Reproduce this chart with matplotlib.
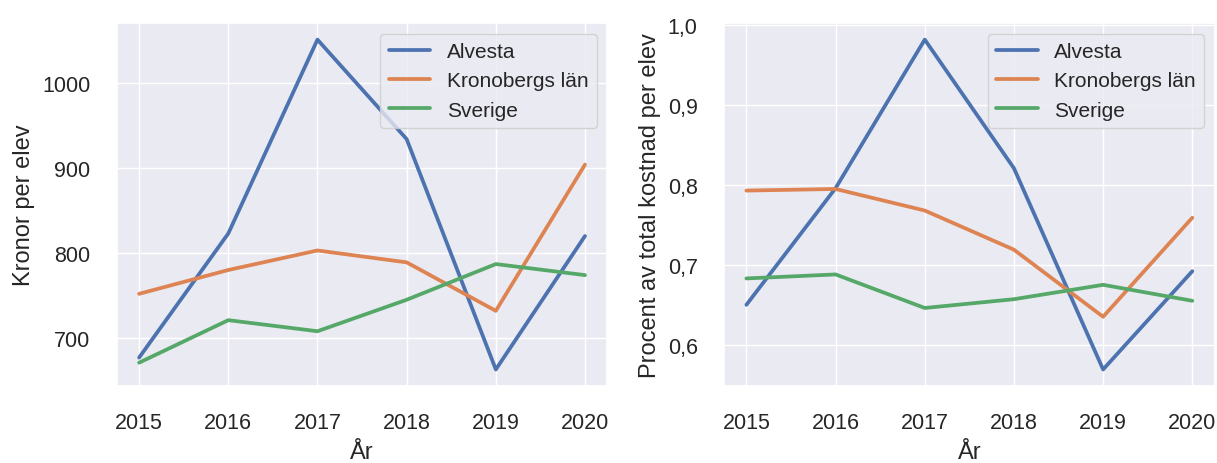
import matplotlib
matplotlib.use("Agg")
from matplotlib import pyplot as plt
from matplotlib.ticker import FuncFormatter
import seaborn as sns

years = [2015, 2016, 2017, 2018, 2019, 2020]

kronor_alvesta = [677, 823, 1051, 934, 663, 820]
kronor_kronoberg = [752, 780, 803, 789, 732, 904]
kronor_sverige = [671, 721, 708, 745, 787, 774]

procent_alvesta = [0.650, 0.796, 0.982, 0.821, 0.569, 0.692]
procent_kronoberg = [0.793, 0.795, 0.768, 0.719, 0.635, 0.759]
procent_sverige = [0.683, 0.688, 0.646, 0.657, 0.675, 0.655]

series_names = ["Alvesta", "Kronobergs län", "Sverige"]

sns.set_theme(style="darkgrid")
plt.rcParams["font.family"] = ["Liberation Sans", "DejaVu Sans"]
plt.rcParams["xtick.labelsize"] = 15.5
plt.rcParams["ytick.labelsize"] = 15.5
plt.rcParams["axes.labelsize"] = 17
plt.rcParams["legend.fontsize"] = 15
plt.rcParams["xtick.major.pad"] = 12.5
plt.rcParams["ytick.major.pad"] = 13
plt.rcParams["lines.linewidth"] = 2.7

fig = plt.figure(figsize=(12.17, 4.64), dpi=100)
ax1 = fig.add_axes([0.096, 0.166, 0.403, 0.782])
ax2 = fig.add_axes([0.595, 0.166, 0.403, 0.782])

for values, name in zip([kronor_alvesta, kronor_kronoberg, kronor_sverige], series_names):
    ax1.plot(years, values, label=name)
ax1.set_xlabel("År", labelpad=6)
ax1.set_ylabel("Kronor per elev", labelpad=5)
ax1.legend(loc="upper right")

for values, name in zip([procent_alvesta, procent_kronoberg, procent_sverige], series_names):
    ax2.plot(years, values, label=name)
ax2.set_xlabel("År", labelpad=6)
ax2.set_ylabel("Procent av total kostnad per elev", labelpad=5)
ax2.yaxis.set_major_formatter(FuncFormatter(lambda v, p: f"{v:.1f}".replace(".", ",")))
ax2.legend(loc="upper right")

fig.savefig("out.png")
